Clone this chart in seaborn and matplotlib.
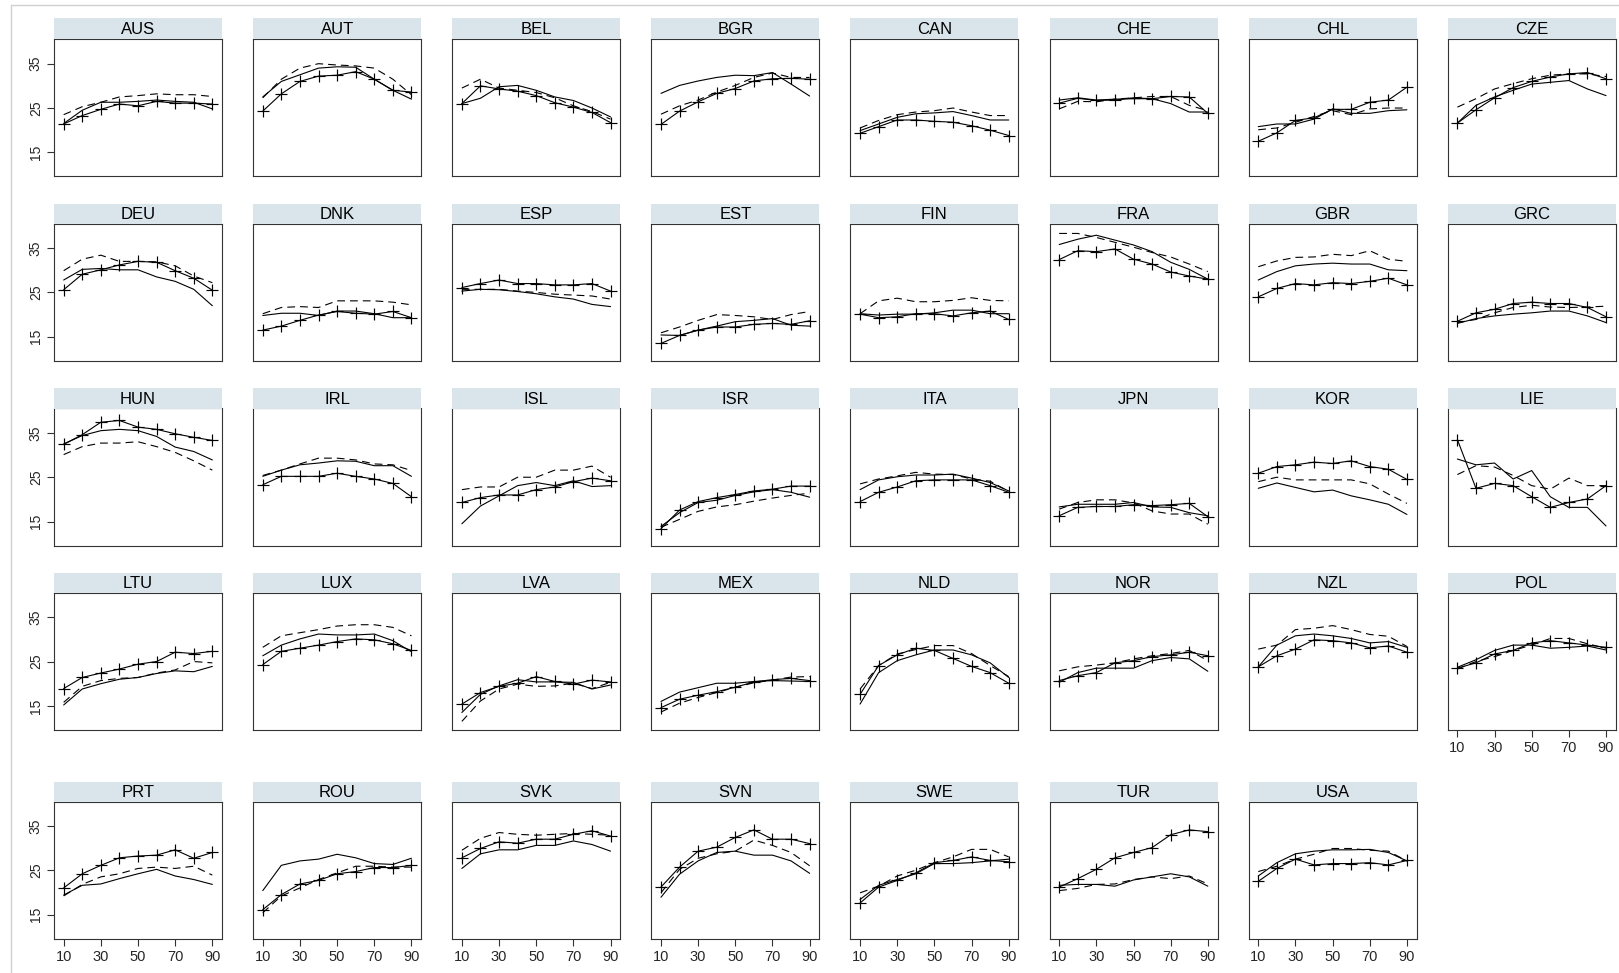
import numpy as np
import pandas as pd
import matplotlib
matplotlib.use('Agg')
import matplotlib.pyplot as plt
import seaborn as sns
from matplotlib.lines import Line2D

# panel order (row by row, 8 per row)
countries = ['AUS', 'AUT', 'BEL', 'BGR', 'CAN', 'CHE', 'CHL', 'CZE',
             'DEU', 'DNK', 'ESP', 'EST', 'FIN', 'FRA', 'GBR', 'GRC',
             'HUN', 'IRL', 'ISL', 'ISR', 'ITA', 'JPN', 'KOR', 'LIE',
             'LTU', 'LUX', 'LVA', 'MEX', 'NLD', 'NOR', 'NZL', 'POL',
             'PRT', 'ROU', 'SVK', 'SVN', 'SWE', 'TUR', 'USA']

ages = [10, 20, 30, 40, 50, 60, 70, 80, 90]

# solid line, no marker
solid_vals = {
    'AUS': [21.5, 24.5, 26.3, 26.3, 26.5, 26.8, 26.5, 26.3, 24.8],
    'AUT': [27.5, 31.0, 32.5, 34.0, 34.3, 34.2, 31.5, 29.0, 27.0],
    'BEL': [26.0, 27.2, 29.8, 30.1, 29.0, 27.5, 26.7, 25.0, 23.0],
    'BGR': [28.3, 30.1, 31.1, 31.9, 32.4, 32.3, 33.0, 30.4, 27.7],
    'CAN': [19.9, 21.4, 22.9, 23.7, 23.9, 24.2, 23.3, 22.3, 22.3],
    'CHE': [26.8, 27.3, 26.8, 27.0, 27.1, 27.1, 26.0, 24.1, 24.1],
    'CHL': [20.8, 21.4, 21.4, 22.5, 24.8, 23.8, 23.8, 24.4, 24.6],
    'CZE': [21.6, 25.6, 27.5, 29.0, 30.4, 30.8, 31.2, 29.3, 27.8],
    'DEU': [27.8, 30.2, 30.4, 30.1, 30.1, 28.5, 27.5, 25.7, 22.0],
    'DNK': [19.8, 20.3, 20.3, 19.8, 20.8, 20.8, 20.2, 19.3, 19.3],
    'ESP': [25.3, 25.7, 25.6, 25.2, 24.7, 24.0, 23.5, 22.3, 21.8],
    'EST': [15.4, 15.3, 16.5, 17.4, 18.4, 18.7, 19.1, 17.6, 17.4],
    'FIN': [20.2, 19.9, 20.1, 20.1, 20.4, 21.0, 21.0, 20.2, 20.2],
    'FRA': [35.8, 37.0, 37.9, 36.8, 35.7, 34.2, 31.8, 30.2, 28.0],
    'GBR': [27.8, 29.7, 31.0, 31.4, 31.6, 31.4, 31.4, 30.1, 29.9],
    'GRC': [18.0, 19.1, 19.7, 20.1, 20.4, 20.8, 20.8, 19.7, 18.2],
    'HUN': [32.5, 34.4, 35.5, 35.8, 35.5, 34.2, 31.8, 30.8, 28.9],
    'IRL': [25.2, 26.6, 27.8, 28.2, 28.7, 28.6, 27.6, 27.6, 25.2],
    'ISL': [14.5, 18.5, 20.8, 23.1, 23.8, 23.1, 24.2, 22.9, 23.1],
    'ISR': [13.9, 17.0, 19.3, 19.8, 20.9, 21.7, 22.2, 21.6, 20.5],
    'ITA': [22.2, 24.4, 25.1, 25.5, 25.5, 25.7, 24.8, 23.8, 21.9],
    'JPN': [18.3, 18.9, 18.9, 18.9, 19.3, 18.3, 18.2, 17.0, 16.3],
    'KOR': [22.5, 23.7, 22.7, 21.7, 22.1, 20.8, 19.9, 18.9, 16.6],
    'LIE': [29.1, 27.8, 28.2, 24.6, 26.5, 20.6, 18.2, 18.2, 14.0],
    'LTU': [15.2, 18.8, 20.0, 21.0, 21.4, 22.3, 22.9, 22.7, 23.9],
    'LUX': [26.3, 28.7, 30.1, 31.2, 31.0, 31.0, 31.2, 29.7, 27.2],
    'LVA': [13.5, 17.6, 19.5, 20.9, 20.4, 20.4, 20.3, 18.8, 19.7],
    'MEX': [16.0, 18.1, 19.1, 20.1, 20.1, 20.5, 20.7, 20.6, 20.5],
    'NLD': [15.4, 22.5, 25.2, 26.5, 27.6, 27.6, 26.5, 24.7, 21.4],
    'NOR': [20.3, 22.5, 23.5, 23.5, 23.5, 25.2, 25.9, 25.6, 22.8],
    'NZL': [23.8, 28.7, 30.8, 31.2, 30.8, 30.2, 29.2, 29.5, 28.2],
    'POL': [23.7, 25.4, 27.5, 28.7, 28.7, 28.0, 28.2, 28.5, 27.6],
    'PRT': [19.4, 21.6, 21.9, 23.1, 24.2, 25.2, 23.7, 22.9, 21.8],
    'ROU': [20.4, 26.1, 27.1, 27.5, 28.6, 27.8, 26.5, 26.3, 27.7],
    'SVK': [25.4, 28.7, 29.6, 29.6, 30.6, 30.6, 31.6, 30.8, 29.3],
    'SVN': [18.9, 24.1, 27.1, 29.0, 29.3, 28.4, 28.4, 27.1, 24.3],
    'SWE': [18.4, 21.6, 22.9, 24.2, 26.5, 26.5, 26.7, 27.1, 27.5],
    'TUR': [21.6, 21.8, 21.8, 21.4, 22.8, 23.5, 24.2, 23.5, 21.4],
    'USA': [23.7, 26.7, 28.7, 29.3, 29.6, 29.6, 29.7, 29.0, 27.1],
}

# dashed line
dashed_vals = {
    'AUS': [23.5, 25.3, 26.3, 27.5, 27.8, 28.2, 28.0, 28.0, 27.6],
    'AUT': [27.3, 31.5, 34.0, 35.0, 34.7, 34.5, 34.0, 31.5, 28.0],
    'BEL': [29.5, 31.5, 29.5, 29.0, 28.5, 27.3, 25.5, 24.2, 22.5],
    'BGR': [23.6, 25.5, 26.8, 28.6, 30.1, 31.9, 32.9, 31.9, 31.9],
    'CAN': [20.5, 22.2, 23.5, 24.1, 24.4, 25.0, 24.1, 23.3, 23.3],
    'CHE': [24.8, 26.5, 26.4, 27.0, 27.3, 27.6, 27.6, 25.6, 24.4],
    'CHL': [20.1, 20.5, 21.8, 23.1, 24.4, 23.5, 24.8, 25.0, 25.0],
    'CZE': [25.2, 27.1, 29.3, 30.5, 31.6, 32.4, 32.7, 32.7, 32.1],
    'DEU': [29.9, 32.5, 33.4, 32.0, 32.0, 31.9, 31.0, 28.7, 27.2],
    'DNK': [20.2, 21.6, 21.8, 21.6, 23.1, 23.1, 23.1, 22.8, 22.2],
    'ESP': [25.7, 25.7, 25.7, 25.3, 25.0, 24.6, 24.4, 24.2, 23.5],
    'EST': [15.9, 17.2, 18.7, 20.0, 19.8, 19.5, 18.9, 20.0, 20.7],
    'FIN': [20.2, 23.1, 23.7, 22.9, 22.9, 23.2, 23.8, 23.2, 23.1],
    'FRA': [38.3, 38.3, 37.4, 36.3, 35.2, 34.0, 33.0, 31.4, 29.7],
    'GBR': [30.8, 32.1, 32.9, 33.0, 33.6, 33.3, 34.4, 32.5, 32.0],
    'GRC': [18.2, 18.9, 20.4, 21.6, 22.1, 21.7, 21.6, 21.7, 21.9],
    'HUN': [30.1, 31.9, 32.7, 32.7, 33.0, 31.9, 30.6, 28.7, 26.6],
    'IRL': [25.4, 26.6, 28.0, 29.3, 29.3, 28.9, 28.0, 27.8, 26.5],
    'ISL': [22.2, 22.8, 22.8, 25.0, 25.0, 26.6, 26.6, 27.5, 25.0],
    'ISR': [13.7, 15.5, 17.3, 18.3, 18.8, 19.6, 20.3, 20.9, 21.4],
    'ITA': [23.5, 24.6, 25.3, 26.1, 25.7, 25.6, 24.6, 24.1, 21.8],
    'JPN': [17.8, 19.3, 19.9, 19.9, 19.2, 17.4, 16.7, 16.7, 14.4],
    'KOR': [24.0, 25.0, 24.4, 24.4, 24.4, 24.4, 23.5, 21.2, 19.1],
    'LIE': [25.6, 27.6, 27.3, 25.4, 23.1, 22.3, 24.8, 23.1, 23.1],
    'LTU': [15.8, 19.4, 20.7, 21.2, 21.4, 22.4, 23.1, 25.0, 24.7],
    'LUX': [28.2, 30.8, 31.5, 32.2, 33.0, 33.3, 33.3, 32.7, 30.8],
    'LVA': [11.5, 16.1, 18.8, 19.9, 19.4, 19.5, 20.1, 18.9, 20.3],
    'MEX': [13.6, 15.6, 16.9, 18.0, 19.2, 20.2, 20.8, 21.5, 21.6],
    'NLD': [18.8, 24.1, 26.7, 27.7, 28.6, 28.6, 26.8, 24.1, 21.6],
    'NOR': [22.9, 23.8, 24.2, 24.7, 25.6, 26.3, 26.8, 27.5, 25.2],
    'NZL': [27.8, 28.7, 32.2, 32.5, 33.1, 32.2, 31.1, 30.7, 28.4],
    'POL': [23.3, 25.0, 26.1, 27.5, 28.7, 30.2, 30.2, 29.0, 28.0],
    'PRT': [19.2, 21.8, 23.5, 24.2, 25.4, 25.7, 25.4, 25.9, 23.9],
    'ROU': [15.4, 19.2, 21.0, 22.9, 24.4, 25.9, 25.9, 25.7, 25.7],
    'SVK': [29.5, 32.2, 33.5, 33.1, 32.9, 33.1, 33.3, 33.1, 32.9],
    'SVN': [19.9, 25.2, 27.7, 28.7, 29.3, 31.8, 30.6, 29.0, 26.0],
    'SWE': [19.9, 21.4, 23.7, 25.0, 26.7, 28.0, 29.7, 29.7, 28.0],
    'TUR': [20.4, 20.9, 21.8, 21.9, 22.9, 23.5, 23.1, 23.7, 21.9],
    'USA': [24.7, 25.9, 27.5, 28.6, 29.9, 29.9, 29.5, 29.3, 27.1],
}

# solid line with + markers
plus_vals = {
    'AUS': [21.4, 23.3, 24.7, 25.9, 25.5, 26.5, 26.1, 26.1, 25.9],
    'AUT': [24.3, 28.2, 31.0, 32.2, 32.4, 33.2, 31.5, 29.0, 28.6],
    'BEL': [26.0, 30.0, 29.3, 28.8, 27.8, 26.2, 25.2, 24.0, 21.7],
    'BGR': [21.3, 24.3, 26.4, 28.3, 29.4, 31.1, 31.6, 31.7, 31.5],
    'CAN': [19.3, 20.8, 22.3, 22.3, 22.0, 21.8, 21.0, 20.0, 18.8],
    'CHE': [26.1, 27.2, 26.7, 26.8, 27.3, 27.1, 27.6, 27.5, 23.8],
    'CHL': [17.5, 19.4, 22.2, 22.8, 24.7, 24.7, 26.3, 26.8, 29.7],
    'CZE': [21.6, 24.6, 27.3, 29.6, 31.0, 32.0, 32.7, 33.0, 31.6],
    'DEU': [25.6, 29.1, 30.1, 31.2, 32.0, 31.8, 29.9, 28.2, 25.5],
    'DNK': [16.5, 17.4, 18.7, 19.9, 20.7, 20.3, 20.1, 20.7, 19.3],
    'ESP': [26.1, 27.0, 27.8, 27.0, 27.0, 26.7, 26.7, 27.0, 25.3],
    'EST': [13.5, 15.3, 16.5, 17.2, 17.2, 17.8, 18.0, 17.8, 18.6],
    'FIN': [20.1, 19.3, 19.5, 20.2, 20.2, 19.7, 20.4, 20.8, 18.9],
    'FRA': [32.4, 34.4, 34.2, 34.8, 32.5, 31.4, 29.6, 28.7, 28.0],
    'GBR': [24.0, 25.9, 27.0, 26.7, 27.2, 27.0, 27.5, 28.2, 26.7],
    'GRC': [18.5, 20.4, 21.2, 22.5, 22.8, 22.5, 22.5, 21.6, 19.5],
    'HUN': [32.4, 34.6, 37.4, 37.8, 36.3, 35.8, 34.8, 34.0, 33.3],
    'IRL': [23.3, 25.2, 25.2, 25.2, 25.9, 25.2, 24.6, 23.6, 20.6],
    'ISL': [19.3, 20.4, 21.0, 21.0, 22.2, 22.8, 24.0, 24.8, 24.2],
    'ISR': [13.4, 17.6, 19.5, 20.4, 21.1, 21.9, 22.3, 23.0, 23.0],
    'ITA': [19.5, 21.6, 22.8, 24.2, 24.4, 24.4, 24.4, 23.1, 21.6],
    'JPN': [16.3, 18.2, 18.4, 18.4, 18.8, 18.6, 18.8, 19.1, 16.1],
    'KOR': [25.9, 27.4, 27.8, 28.4, 28.1, 28.7, 27.4, 26.8, 24.5],
    'LIE': [33.5, 22.5, 23.6, 23.1, 20.6, 18.2, 19.3, 20.1, 23.1],
    'LTU': [18.9, 21.4, 22.4, 23.3, 24.4, 25.0, 27.1, 26.8, 27.3],
    'LUX': [24.3, 27.3, 28.0, 28.7, 29.5, 30.1, 29.9, 29.0, 27.5],
    'LVA': [15.4, 18.0, 19.4, 20.1, 21.6, 20.5, 19.9, 20.8, 20.4],
    'MEX': [14.6, 16.5, 17.4, 18.2, 19.2, 20.4, 20.9, 21.2, 20.7],
    'NLD': [17.6, 24.1, 26.5, 28.0, 27.5, 25.7, 23.9, 22.5, 20.1],
    'NOR': [20.7, 21.8, 22.5, 24.7, 25.2, 26.1, 26.5, 27.1, 26.3],
    'NZL': [23.8, 26.3, 27.8, 29.9, 29.7, 29.2, 28.1, 28.5, 27.1],
    'POL': [23.5, 24.7, 26.7, 27.5, 29.2, 29.7, 29.2, 28.7, 28.2],
    'PRT': [21.0, 24.2, 26.1, 27.8, 28.2, 28.4, 29.6, 27.7, 29.0],
    'ROU': [16.1, 19.5, 21.9, 22.7, 24.2, 24.7, 25.6, 25.6, 26.1],
    'SVK': [27.8, 29.9, 31.4, 31.1, 32.0, 32.0, 33.1, 33.9, 32.7],
    'SVN': [21.2, 25.7, 29.3, 30.2, 32.4, 34.1, 32.0, 32.0, 31.0],
    'SWE': [17.6, 21.2, 22.7, 24.4, 26.7, 27.2, 28.0, 27.2, 26.9],
    'TUR': [21.2, 23.1, 25.2, 27.8, 29.0, 30.1, 33.0, 34.1, 33.7],
    'USA': [22.5, 25.4, 27.5, 26.2, 26.5, 26.5, 26.7, 26.2, 27.2],
}

xticks = [10, 30, 50, 70, 90]
yticks = [15, 25, 35]

# long table for seaborn
rows = []
for c in countries:
    for name, src in [('solid', solid_vals), ('dashed', dashed_vals), ('plus', plus_vals)]:
        for a, v in zip(ages, src[c]):
            rows.append({'country': c, 'series': name, 'age': a, 'value': v})
df = pd.DataFrame(rows)

sns.set_theme(style='white')
plt.rcParams['font.family'] = ['Liberation Sans', 'DejaVu Sans']

W, H = 1619, 973
fig = plt.figure(figsize=(W / 100, H / 100), dpi=100)
fig.patch.set_facecolor('white')

# layout in pixels
col_left = [54 + 199.1 * i for i in range(8)]
panel_w = 168
strip_top = [18, 203.5, 388.3, 572.5, 781.7]
plot_top = [39.3, 223.7, 408.5, 592.8, 801.5]
panel_h = 137

line_styles = {
    'solid': dict(linestyle='-'),
    'dashed': dict(linestyle=(0, (7, 4.5))),
    'plus': dict(linestyle='-', marker='+', markersize=8,
                 markeredgewidth=0.85, markeredgecolor='black'),
}

n = len(countries)
for k, c in enumerate(countries):
    r, col = divmod(k, 8)
    x0 = col_left[col]
    ax = fig.add_axes([x0 / W, 1 - (plot_top[r] + panel_h) / H, panel_w / W, panel_h / H])
    sub = df[df['country'] == c]
    for s in ['solid', 'dashed', 'plus']:
        sns.lineplot(data=sub[sub['series'] == s], x='age', y='value', ax=ax,
                     color='black', lw=0.8, errorbar=None, **line_styles[s])
    ax.set_xlim(4.8, 95.2)
    ax.set_ylim(9.6, 40.5)
    ax.set_xticks(xticks)
    ax.set_yticks(yticks)
    ax.set_xlabel('')
    ax.set_ylabel('')
    for sp in ax.spines.values():
        sp.set_color('#333333')
        sp.set_linewidth(0.8)

    show_y = col == 0
    show_x = (k + 8 >= n)
    ax.tick_params(axis='y', left=show_y, labelleft=show_y, length=5, width=0.8,
                   color='#333333', labelsize=10, pad=3, labelrotation=90)
    ax.tick_params(axis='x', bottom=show_x, labelbottom=show_x, length=5, width=0.8,
                   color='#333333', labelsize=10.5, pad=3)
    if show_y:
        for lab in ax.get_yticklabels():
            lab.set_va('center')

    # title strip
    sax = fig.add_axes([x0 / W, 1 - plot_top[r] / H, panel_w / W, (plot_top[r] - strip_top[r]) / H])
    sax.set_facecolor('#d9e4eb')
    sax.set_xticks([])
    sax.set_yticks([])
    for sp in sax.spines.values():
        sp.set_visible(False)
    sax.text(0.5, 0.45, c, ha='center', va='center', fontsize=12, color='black',
             transform=sax.transAxes)

# light frame of the graph region
fig.add_artist(Line2D([11 / W, 11 / W], [0, 1 - 5 / H], color='#d0d0d0', lw=1))
fig.add_artist(Line2D([11 / W, 1], [1 - 5 / H, 1 - 5 / H], color='#d0d0d0', lw=1))

fig.savefig('out.png', dpi=100)
